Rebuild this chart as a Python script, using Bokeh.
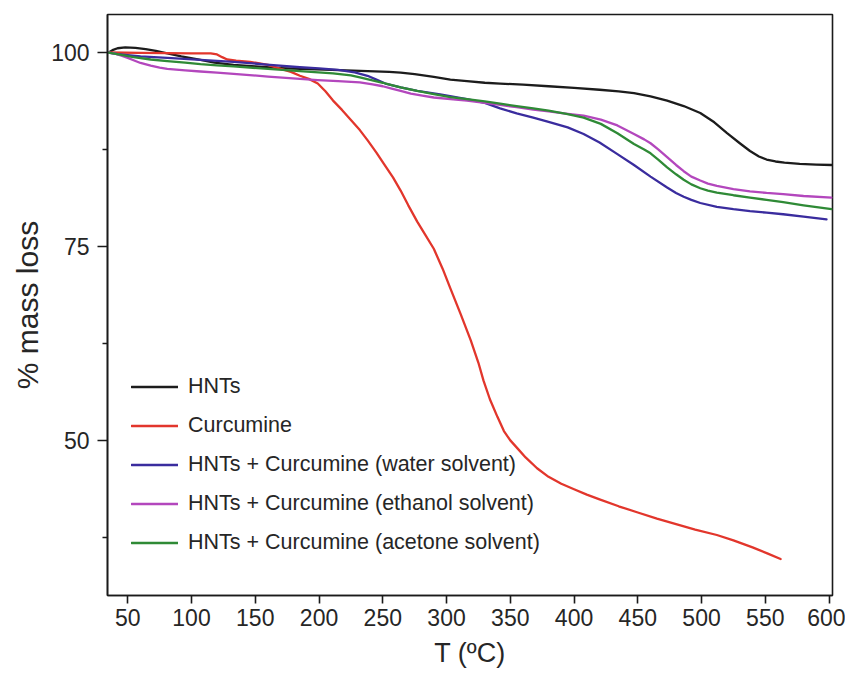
from bokeh.plotting import figure
from bokeh.models import FixedTicker, Legend, LegendItem, Range1d
from bokeh.embed import file_html
from bokeh.resources import INLINE

# ---- data ----
hnt_T = [35, 38, 42, 48, 56, 64, 72, 81, 92, 105, 118, 133, 150, 170, 185, 210, 238, 255, 264, 275, 290, 303,
         316, 330, 342, 360, 380, 400, 420, 435, 447, 460, 473, 486, 499, 510, 520, 530, 538, 545, 551, 558,
         565, 577, 590, 602]
hnt_v = [100.0, 100.3, 100.55, 100.65, 100.6, 100.45, 100.2, 99.9, 99.5, 99.1, 98.7, 98.4, 98.2, 98.0, 97.9,
         97.75, 97.6, 97.5, 97.4, 97.2, 96.85, 96.5, 96.3, 96.1, 96.0, 95.85, 95.65, 95.45, 95.2, 95.0, 94.75,
         94.35, 93.8, 93.1, 92.2, 91.0, 89.6, 88.3, 87.3, 86.6, 86.2, 85.95, 85.8, 85.65, 85.55, 85.5]

cur_T = [35, 60, 100, 115, 120, 124, 128, 135, 146, 160, 170, 178, 185, 192, 199, 205, 211, 218, 225, 232,
         238, 245, 251, 258, 264, 270, 277, 283, 290, 297, 303, 311, 319, 325, 329, 334, 340, 345, 350, 356,
         362, 371, 380, 390, 400, 410, 420, 435, 450, 465, 480, 495, 512, 525, 540, 552, 562]
cur_v = [100.0, 99.95, 99.9, 99.9, 99.75, 99.4, 99.1, 98.95, 98.8, 98.4, 97.9, 97.5, 97.0, 96.6, 96.0, 95.0,
         93.8, 92.6, 91.3, 90.0, 88.7, 87.1, 85.6, 83.9, 82.2, 80.3, 78.2, 76.6, 74.7, 72.1, 69.6, 66.3, 62.9,
         60.0, 57.7, 55.3, 53.0, 51.2, 50.0, 48.9, 47.8, 46.4, 45.3, 44.4, 43.7, 43.0, 42.4, 41.5, 40.7, 39.9,
         39.2, 38.5, 37.8, 37.1, 36.2, 35.4, 34.7]

wat_T = [35, 42, 60, 81, 107, 133, 159, 185, 200, 215, 228, 238, 245, 252, 264, 277, 295, 316, 330, 342, 355,
         368, 380, 395, 407.5, 420, 434, 447, 460, 473, 480, 486, 492, 499, 512, 525, 538, 551, 564, 580, 598]
wat_v = [100.0, 99.8, 99.5, 99.3, 99.05, 98.8, 98.45, 98.1, 97.95, 97.75, 97.45, 97.0, 96.5, 96.0, 95.5, 95.05,
         94.6, 94.0, 93.5, 92.8, 92.15, 91.6, 91.05, 90.35, 89.5, 88.4, 86.9, 85.5, 84.0, 82.6, 81.9, 81.4, 81.0,
         80.6, 80.1, 79.8, 79.55, 79.35, 79.15, 78.85, 78.5]

eth_T = [35, 40, 45, 50, 54.5, 60, 68, 75, 81, 95, 107, 120, 133, 160, 185, 199, 215, 232, 242, 250, 257, 264,
         272, 281, 290, 303, 316, 330, 342, 355, 368, 380, 395, 407.5, 421, 434, 447, 455, 460, 466, 473, 480,
         486, 492, 499, 505, 512, 525, 538, 551, 564, 580, 602]
eth_v = [100.0, 99.85, 99.6, 99.3, 99.0, 98.65, 98.3, 98.05, 97.9, 97.7, 97.55, 97.4, 97.25, 96.9, 96.6, 96.45,
         96.3, 96.15, 95.9, 95.65, 95.35, 95.05, 94.7, 94.45, 94.2, 94.0, 93.8, 93.5, 93.25, 92.95, 92.65, 92.4,
         92.1, 91.85, 91.35, 90.6, 89.5, 88.8, 88.3, 87.5, 86.5, 85.5, 84.7, 84.0, 83.5, 83.1, 82.8, 82.4, 82.1,
         81.9, 81.75, 81.5, 81.3]

ace_T = [35, 45, 54.5, 68, 81, 95, 107, 120, 133, 160, 185, 211, 225, 232, 241, 250, 257, 264, 277, 290, 303,
         316, 330, 342, 355, 368, 380, 394, 407.5, 421, 434, 447, 455, 460, 466, 473, 480, 486, 492, 499, 505,
         512, 525, 538, 551, 564, 580, 602]
ace_v = [100.0, 99.7, 99.4, 99.1, 98.9, 98.7, 98.5, 98.35, 98.2, 97.9, 97.6, 97.3, 97.05, 96.8, 96.45, 96.1,
         95.8, 95.5, 95.05, 94.65, 94.25, 94.0, 93.7, 93.4, 93.1, 92.8, 92.5, 92.1, 91.6, 90.8, 89.6, 88.2, 87.5,
         87.0, 86.2, 85.2, 84.3, 83.6, 83.0, 82.5, 82.2, 81.95, 81.6, 81.3, 81.0, 80.7, 80.3, 79.8]

series_names = ["HNTs", "Curcumine", "HNTs + Curcumine (water solvent)",
                "HNTs + Curcumine (ethanol solvent)", "HNTs + Curcumine (acetone solvent)"]
x_ticks = [50, 100, 150, 200, 250, 300, 350, 400, 450, 500, 550, 600]
y_ticks = [50, 75, 100]
y_minor_ticks = [37.5, 62.5, 87.5]

colors = ["#1c1c1c", "#e2362c", "#3a2c9e", "#b347bd", "#2f8a36"]
FONT = "Liberation Sans"
TXT = "#262626"

p = figure(width=845, height=673, output_backend="svg", toolbar_location=None,
           x_range=Range1d(34.1, 602.7), y_range=Range1d(30.0, 104.9),
           min_border_left=107, min_border_right=13, min_border_top=14, min_border_bottom=78)
p.background_fill_color = "white"
p.border_fill_color = "white"
p.grid.visible = False
p.outline_line_color = "#1a1a1a"
p.outline_line_width = 1.6
p.outline_line_alpha = 1.0

series = [(hnt_T, hnt_v), (cur_T, cur_v), (wat_T, wat_v), (eth_T, eth_v), (ace_T, ace_v)]
renderers = []
for (xs, ys), c in zip(series, colors):
    r = p.line(xs, ys, line_color=c, line_width=2.3, line_join="round", line_cap="round")
    renderers.append(r)

p.xaxis.ticker = FixedTicker(ticks=x_ticks, minor_ticks=[])
p.yaxis.ticker = FixedTicker(ticks=y_ticks, minor_ticks=y_minor_ticks)

for ax in (p.xaxis[0], p.yaxis[0]):
    ax.axis_line_color = "#1a1a1a"
    ax.axis_line_width = 1.6
    ax.major_tick_line_color = "#1a1a1a"
    ax.major_tick_line_width = 1.6
    ax.major_tick_in = 0
    ax.major_tick_out = 8
    ax.minor_tick_line_color = "#1a1a1a"
    ax.minor_tick_line_width = 1.6
    ax.minor_tick_in = 0
    ax.minor_tick_out = 5
    ax.major_label_text_font = FONT
    ax.major_label_text_color = TXT
    ax.axis_label_text_font = FONT
    ax.axis_label_text_color = TXT
    ax.axis_label_text_font_style = "normal"

p.xaxis.major_label_text_font_size = "23px"
p.xaxis.major_label_standoff = 5
p.xaxis.axis_label = "T (ºC)"
p.xaxis.axis_label_text_font_size = "27px"
p.xaxis.axis_label_standoff = 9

p.yaxis.major_label_text_font_size = "23px"
p.yaxis.major_label_standoff = 8
p.yaxis.major_tick_out = 10
p.yaxis.axis_label = "% mass loss"
p.yaxis.axis_label_text_font_size = "30px"
p.yaxis.axis_label_standoff = 4

items = [LegendItem(label=n, renderers=[r]) for n, r in zip(series_names, renderers)]
legend = Legend(items=items, location=(24, 40), orientation="vertical",
                background_fill_alpha=0, border_line_alpha=0,
                label_text_font=FONT, label_text_font_size="21.5px", label_text_color=TXT,
                glyph_width=47, glyph_height=25, label_height=25, label_standoff=10,
                spacing=14, padding=0, margin=0)
p.add_layout(legend, "center")

open("out.html", "w").write(file_html(p, INLINE))
